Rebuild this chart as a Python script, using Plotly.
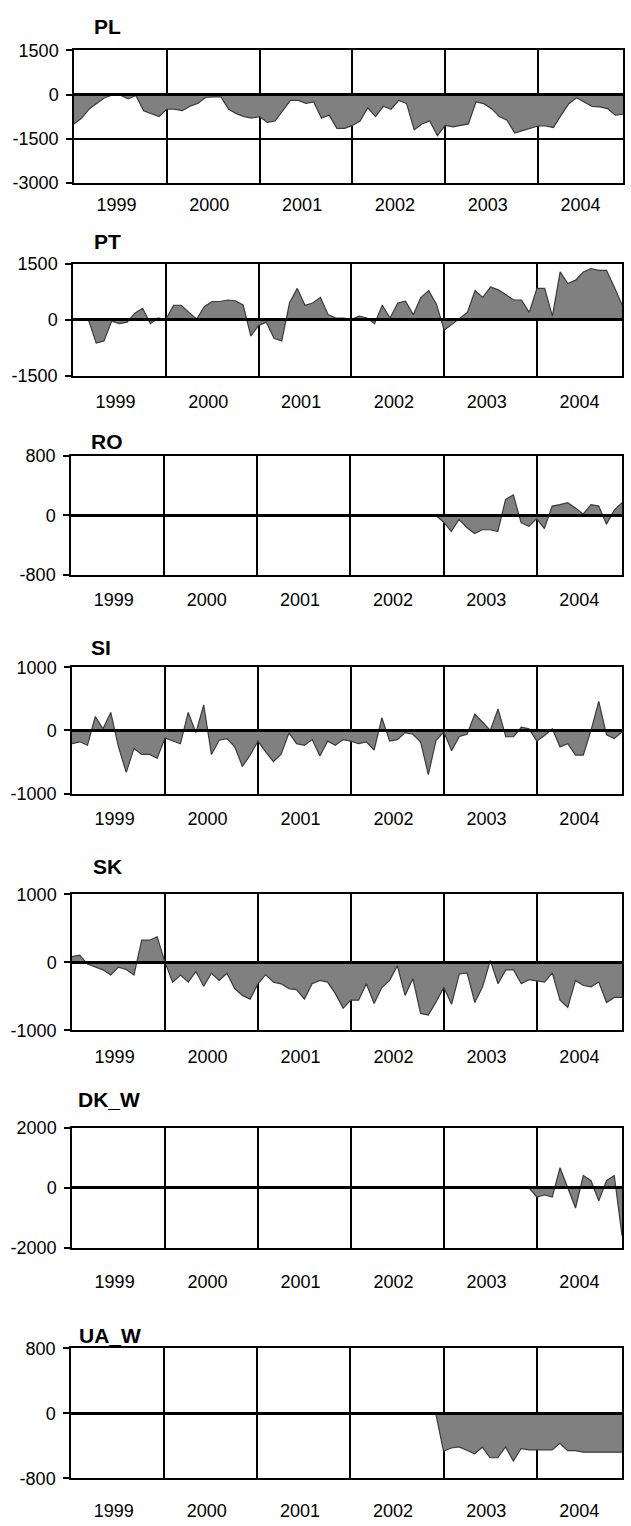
import plotly.graph_objects as go

# ---------------- data ----------------
YEARS = ["1999", "2000", "2001", "2002", "2003", "2004"]
MONTH_INDEX = list(range(72))          # Jan 1999 ... Dec 2004 (category positions)
YEAR_LABEL_POS = [5.5, 17.5, 29.5, 41.5, 53.5, 65.5]
YEAR_BOUNDARIES = [12, 24, 36, 48, 60]

PL = [-1000, -800, -480, -300, -100, -10, -20, -150, -30, -550, -650, -750,
      -500, -500, -550, -400, -300, -100, -80, -80, -500, -650, -750, -800,
      -750, -950, -900, -550, -200, -200, -300, -250, -800, -700, -1150, -1150,
      -1050, -900, -450, -750, -400, -500, -200, -300, -1200, -1000, -900, -1400,
      -1050, -1100, -1050, -1000, -250, -310, -480, -750, -870, -1310, -1230, -1150,
      -1070, -1070, -1120, -700, -310, -110, -255, -400, -420, -480, -700, -670]

PT = [0, 0, 0, -620, -560, -35, -100, -60, 180, 310, -100, 50,
      0, 390, 390, 200, 20, 360, 490, 490, 530, 510, 400, -430,
      -150, -60, -490, -560, 450, 840, 390, 450, 600, 140, 50, 50,
      10, 100, 50, -100, 390, 50, 450, 500, 140, 600, 780, 420,
      -270, -120, 50, 200, 780, 600, 880, 800, 670, 530, 530, 200,
      840, 840, 100, 1280, 970, 1060, 1280, 1370, 1320, 1320, 880, 400]

RO = [None] * 47 + [0, -90, -220, -55, -165, -245, -195, -195, -220, 215, 275, -100, -150,
                    -45, -180, 125, 145, 170, 100, 15, 145, 125, -120, 70, 170]

SI = [-210, -180, -235, 220, 25, 285, -260, -665, -285, -380, -380, -440,
      -120, -170, -210, 285, -35, 405, -380, -155, -130, -260, -570, -390,
      -170, -340, -495, -375, -40, -210, -235, -145, -405, -170, -235, -145,
      -170, -210, -180, -310, 200, -170, -145, -35, -60, -180, -700, -155,
      -25, -320, -95, -60, 260, 130, 0, 340, -100, -100, 50, 25,
      -170, -80, 25, -260, -210, -390, -390, 0, 460, -70, -130, -25]

SK = [85, 105, -25, -70, -110, -185, -70, -105, -185, 325, 325, 375,
      0, -290, -185, -290, -135, -350, -160, -265, -160, -385, -485, -540,
      -315, -180, -290, -315, -385, -400, -540, -315, -265, -290, -460, -675,
      -555, -555, -315, -605, -370, -265, -50, -485, -240, -750, -775, -580,
      -370, -615, -170, -155, -590, -360, 25, -315, -110, -110, -315, -255,
      -275, -290, -155, -555, -660, -265, -340, -360, -290, -590, -515, -515]

DK_W = [None] * 59 + [0, -305, -240, -305, 675, 0, -675, 415, 240, -435, 240, 415, -1600]

UA_W = [None] * 47 + [0, -465, -425, -412, -453, -497, -416, -545, -545, -412, -586, -432, -448,
                      -448, -448, -448, -368, -457, -457, -477, -477, -477, -477, -477, -477]

NAMES = ["PL", "PT", "RO", "SI", "SK", "DK_W", "UA_W"]
SERIES = [PL, PT, RO, SI, SK, DK_W, UA_W]
Y_TICKS = [[-3000, -1500, 0, 1500],
           [-1500, 0, 1500],
           [-800, 0, 800],
           [-1000, 0, 1000],
           [-1000, 0, 1000],
           [-2000, 0, 2000],
           [-800, 0, 800]]

# ---------------- layout (pixels) ----------------
W, H = 631, 1526
X_LEFT = [74, 73, 71, 72, 72, 72, 71]
X_RIGHT = [623, 622, 622, 622, 622, 622, 622]
PANEL_TOP = [41, 257, 452, 666, 896, 1133, 1356]
PANEL_BOTTOM = [175, 371, 572, 794, 1034, 1254, 1488]
TITLE_Y = [17, 235, 437, 646, 868, 1104, 1343]
XLABEL_PAD = [5, 9, 8, 8, 9, 17, 15]
TITLE_X = [107, 107, 107, 101, 107, 109, 110]

FONT = "Liberation Sans, Arial, Helvetica, sans-serif"

fig = go.Figure()
layout = dict(
    width=W, height=H,
    margin=dict(l=0, r=0, t=0, b=0),
    paper_bgcolor="white", plot_bgcolor="white",
    showlegend=False, hovermode=False,
    font=dict(family=FONT, size=18, color="black"),
    annotations=[],
)

for i, (name, ys, ticks) in enumerate(zip(NAMES, SERIES, Y_TICKS)):
    k = i + 1
    xa = "x" if k == 1 else f"x{k}"
    ya = "y" if k == 1 else f"y{k}"
    fig.add_trace(go.Scatter(
        x=MONTH_INDEX, y=ys, mode="lines", fill="tozeroy",
        fillcolor="#808080", line=dict(color="#3a3a3a", width=1.2),
        xaxis=xa, yaxis=ya, name=name,
    ))
    ydom = [1 - PANEL_BOTTOM[i] / H, 1 - PANEL_TOP[i] / H]
    layout["xaxis" if k == 1 else f"xaxis{k}"] = dict(
        domain=[X_LEFT[i] / W, X_RIGHT[i] / W], anchor=ya,
        range=[0, 71], tickmode="array", tickvals=YEAR_LABEL_POS, ticktext=YEARS,
        showgrid=False, zeroline=False,
        ticks="outside", ticklen=XLABEL_PAD[i], tickcolor="rgba(0,0,0,0)",
        tickfont=dict(size=18, family=FONT, color="black"),
        showline=True, linecolor="black", linewidth=1.5, mirror=True,
        minor=dict(tickmode="array", tickvals=YEAR_BOUNDARIES, showgrid=True,
                   gridcolor="black", gridwidth=1.5),
        fixedrange=True,
    )
    layout["yaxis" if k == 1 else f"yaxis{k}"] = dict(
        domain=ydom, anchor=xa,
        range=[ticks[0], ticks[-1]], tickmode="array", tickvals=ticks,
        ticktext=[str(t) for t in ticks],
        showgrid=True, gridcolor="black", gridwidth=1.5,
        zeroline=True, zerolinecolor="black", zerolinewidth=2.5,
        ticks="outside", ticklen=6, tickcolor="black", tickwidth=1.5,
        tickfont=dict(size=18, family=FONT, color="black"),
        showline=True, linecolor="black", linewidth=1.5, mirror=True,
        fixedrange=True,
    )
    layout["annotations"].append(dict(
        text=f"<b>{name}</b>", xref="paper", yref="paper",
        x=TITLE_X[i] / W, y=1 - TITLE_Y[i] / H, xanchor="center", yanchor="middle",
        showarrow=False, font=dict(size=21, family=FONT, color="black"),
    ))

fig.update_layout(**layout)
try:
    fig.update_yaxes(zerolinelayer="above traces")
except Exception:
    pass
try:
    fig.update_yaxes(ticklabelstandoff=4)
except Exception:
    pass

fig.write_html(
    "out.html",
    config={"displayModeBar": False},
    post_script="document.body.style.margin='0px';document.body.style.overflow='hidden';",
)
